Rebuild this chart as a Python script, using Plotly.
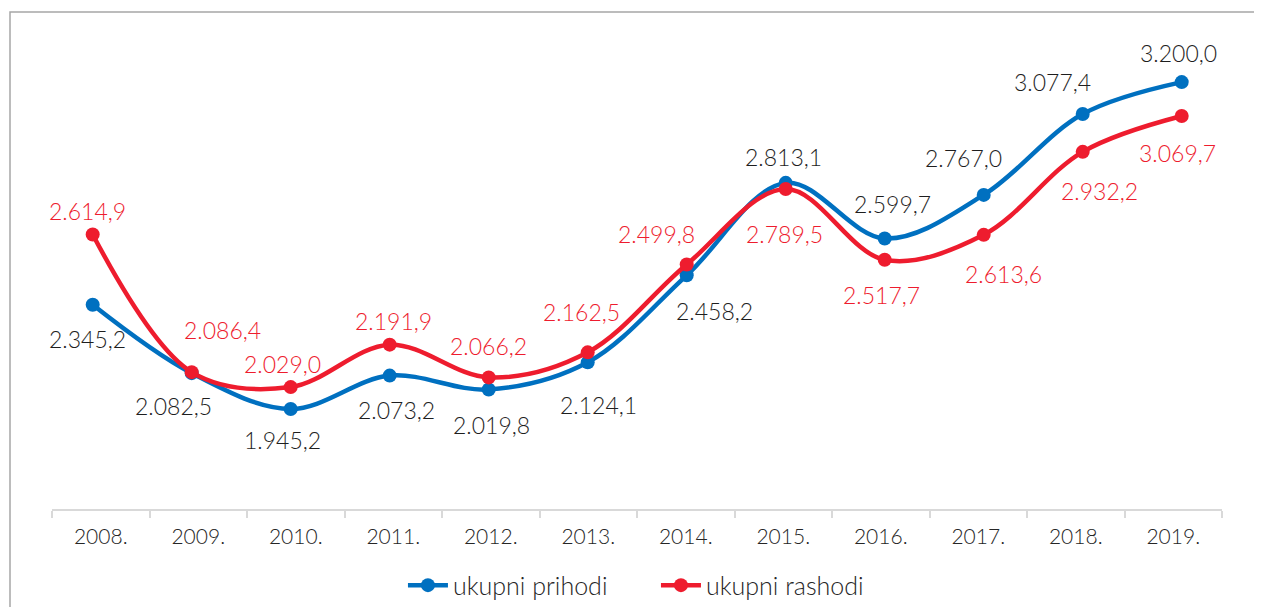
import plotly.graph_objects as go

years = ["2008.", "2009.", "2010.", "2011.", "2012.", "2013.", "2014.", "2015.", "2016.", "2017.", "2018.", "2019."]
prihodi = [2345.2, 2082.5, 1945.2, 2073.2, 2019.8, 2124.1, 2458.2, 2813.1, 2599.7, 2767.0, 3077.4, 3200.0]
rashodi = [2614.9, 2086.4, 2029.0, 2191.9, 2066.2, 2162.5, 2499.8, 2789.5, 2517.7, 2613.6, 2932.2, 3069.7]
labels_prihodi = ["2.345,2", "2.082,5", "1.945,2", "2.073,2", "2.019,8", "2.124,1", "2.458,2", "2.813,1", "2.599,7", "2.767,0", "3.077,4", "3.200,0"]
labels_rashodi = ["2.614,9", "2.086,4", "2.029,0", "2.191,9", "2.066,2", "2.162,5", "2.499,8", "2.789,5", "2.517,7", "2.613,6", "2.932,2", "3.069,7"]

# label offsets in px (dx right, dy down) - styling only
off_p = [(-5, 34), (-18, 33), (-8, 31), (7, 34), (3, 35), (11, 43), (28, 36), (-2, -26), (8, -34), (-20, -37), (-30, -32), (-3, -29)]
off_r = [(-5, -23), (31, -42), (-8, -23), (4, -24), (0, -31), (-6, -40), (-30, -30), (-1, 45), (-3, 35), (20, 39), (17, 39), (-4, 37)]

BLUE = "#0070C0"
RED = "#EE1C2E"
DARK = "#1E1E1E"
AXIS_TXT = "#262626"
FONT = "Lato"
W = 300

idx = list(range(len(years)))

fig = go.Figure()
fig.add_trace(go.Scatter(
    x=idx, y=prihodi, name="ukupni prihodi", mode="lines+markers",
    line=dict(color=BLUE, width=4.5, shape="spline", smoothing=1.0),
    marker=dict(color=BLUE, size=14), hoverinfo="skip"))
fig.add_trace(go.Scatter(
    x=idx, y=rashodi, name="ukupni rashodi", mode="lines+markers",
    line=dict(color=RED, width=4.5, shape="spline", smoothing=1.0),
    marker=dict(color=RED, size=14), hoverinfo="skip"))
# invisible trace carrying the category axis
fig.add_trace(go.Scatter(
    x=years, y=prihodi, xaxis="x2", mode="lines", line=dict(width=0),
    opacity=0, showlegend=False, hoverinfo="skip"))

ann = []
for i in idx:
    dx, dy = off_p[i]
    ann.append(dict(x=i, y=prihodi[i], xref="x", yref="y", text=labels_prihodi[i],
                    showarrow=False, xanchor="center", yanchor="middle",
                    xshift=dx, yshift=-dy, font=dict(family=FONT, size=23, color=DARK, weight=W)))
    dx, dy = off_r[i]
    ann.append(dict(x=i, y=rashodi[i], xref="x", yref="y", text=labels_rashodi[i],
                    showarrow=False, xanchor="center", yanchor="middle",
                    xshift=dx, yshift=-dy, font=dict(family=FONT, size=23, color=RED, weight=W)))

# page has an 8px body margin: plot area in page coords x 52..1222, y 30..509.5
fig.update_layout(
    width=1262, height=607,
    margin=dict(l=44, r=48, t=22, b=105.5, autoexpand=False),
    paper_bgcolor="white", plot_bgcolor="white",
    showlegend=True,
    legend=dict(orientation="h", x=0.5162, xanchor="center", y=-0.1595, yanchor="middle",
                font=dict(family=FONT, size=25, color=AXIS_TXT, weight=W), itemwidth=40,
                entrywidth=198, entrywidthmode="pixels", tracegroupgap=0),
    xaxis=dict(visible=False, range=[-0.411, 11.407]),
    xaxis2=dict(overlaying="x", anchor="y", side="bottom", type="category",
                categoryorder="array", categoryarray=years, range=[-0.5, 11.5],
                showline=True, linecolor="#D9D9D9", linewidth=2,
                ticks="outside", tickson="boundaries", ticklen=7, tickcolor="#D9D9D9", tickwidth=2,
                showgrid=False, zeroline=False,
                tickfont=dict(family=FONT, size=21, color=AXIS_TXT, weight=W), ticklabelstandoff=8),
    yaxis=dict(visible=False, range=[1561, 3400]),
    annotations=ann,
    shapes=[dict(type="rect", xref="paper", yref="paper", x0=(2 - 44) / 1170, x1=1.2,
                 y0=-0.5, y1=(501.5 - 4) / 479.5, line=dict(color="#A6A6A6", width=1.5),
                 fillcolor="rgba(0,0,0,0)", layer="below")],
)

fig.write_html("out.html")
